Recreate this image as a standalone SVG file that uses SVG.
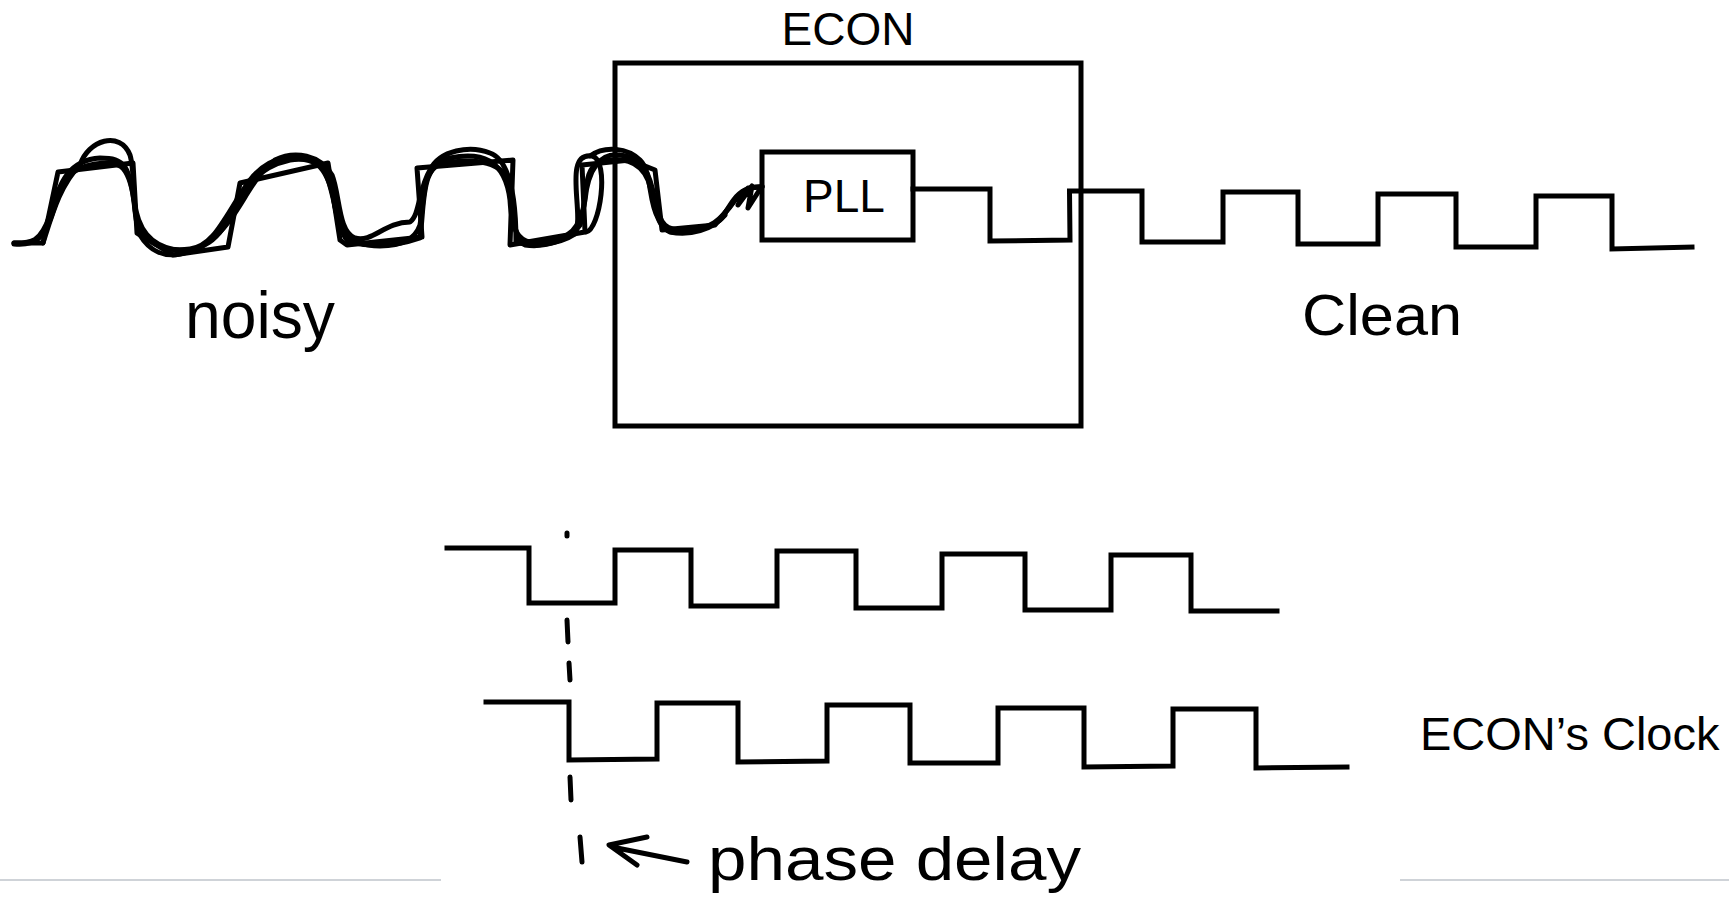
<svg xmlns="http://www.w3.org/2000/svg" width="1729" height="918" viewBox="0 0 1729 918">
<style>
.box{fill:none;stroke:#000;stroke-width:5;stroke-linejoin:miter}
.sq{fill:none;stroke:#000;stroke-width:5;stroke-linejoin:miter;stroke-linecap:square}
.hand{fill:none;stroke:#000;stroke-width:5;stroke-linecap:round;stroke-linejoin:round}
.lbl{font-family:"Liberation Sans",Arial,sans-serif;fill:#000}
.hw{font-family:"Liberation Sans",Arial,sans-serif;fill:#000}
.rule{stroke:#cfd3d8;stroke-width:2}
</style>
<rect width="1729" height="918" fill="#fff"/>

<g id="econ">
<rect class="box" x="615" y="63" width="466" height="363"/>
<text class="lbl" x="848" y="45" font-size="46" text-anchor="middle">ECON</text>
</g>

<g id="pll">
<rect class="box" x="762" y="152" width="151" height="88"/>
<text class="lbl" x="844" y="212" font-size="46" text-anchor="middle">PLL</text>
</g>

<g id="connectors">
<g id="noisy-signal">
<path class="hand" d="M14,243 L43,243 L58,172 L133,163 L137,233 L173,255 L228,247 L240,183 L328,163 L340,240 L347,245 L422,237 L417,168 L513,160 L510,245 L585,232 L582,165 L630,160 L655,170 L662,230 L715,225 L735,200 L748,188 L762,187"/>
<path class="hand" d="M14,243 C30,243 40,244 50,215 C60,180 70,160 100,158 C125,158 130,165 135,210 C140,245 165,252 190,249 C215,246 225,215 250,180 C270,155 300,150 320,165 C335,180 335,235 350,242 C375,248 400,245 420,238 C425,200 420,165 450,158 C480,152 505,158 510,200 C512,235 520,246 545,242 C570,238 580,230 585,200 C588,170 600,152 620,155 C645,158 650,175 655,200 C660,225 665,232 690,230 C710,228 720,222 735,200 C742,190 750,186 762,187"/>
<path class="hand" d="M43,243 C52,215 60,185 80,165 C88,140 120,130 130,155 C136,175 131,210 140,235 C150,252 165,257 180,254 C200,250 215,240 230,220 C245,200 255,175 275,160 C295,150 320,155 332,175 C340,195 338,232 355,238 C372,243 385,222 410,222 C420,215 418,190 430,170 C440,150 470,145 490,153 C510,160 516,200 516,242 C532,248 560,244 575,234 C585,215 562,152 592,156 C610,160 600,230 586,232 M590,156 C605,145 628,148 640,160 C652,172 648,200 658,218 C662,228 668,234 680,232 C700,230 712,228 722,218 C730,205 735,195 745,190 L738,205 L752,186 L748,208 L762,186"/>
<path class="hand" d="M14,244 C35,246 45,240 55,205 C62,180 70,168 95,164 C118,161 128,162 134,200 C138,230 150,245 175,250 C200,253 220,242 236,205 C245,185 262,166 290,160 C312,157 326,162 334,200 C338,230 345,246 380,246 C400,246 415,240 420,225 C425,195 422,172 440,164 C470,158 500,160 508,180 C514,205 512,240 525,245 C545,248 570,240 580,225 C588,200 582,168 600,162 C620,156 640,160 648,180 C655,200 655,225 670,232 C690,236 712,230 725,215"/>
</g>
<g id="clean-signal">
<path class="sq" d="M913,189 L990,189 L990,241 L1070,240 L1069.5,191 L1142,191 L1142,242 L1223,242 L1223,192 L1298,192 L1298,244 L1378,244 L1378,194 L1456,194 L1456,247 L1536,247 L1536,196 L1612,196 L1612,249 L1692,247"/>
</g>
</g>

<g id="labels">
<text class="hw" x="185" y="338" font-size="66" textLength="150" lengthAdjust="spacingAndGlyphs">noisy</text>
<text class="hw" x="1302" y="335" font-size="58" textLength="160" lengthAdjust="spacingAndGlyphs">Clean</text>
<text class="lbl" x="1420" y="750" font-size="47">ECON’s Clock</text>
</g>

<g id="reference-clock">
<path class="sq" d="M447,548 L529,548 L529,603 L615,603 L615,550 L691,550 L691,606 L777,606 L777,551 L856,551 L856,608 L942,608 L942,554 L1025,554 L1025,610 L1111,610 L1111,555 L1191,555 L1191,611 L1277,611"/>
</g>

<g id="econ-clock">
<path class="sq" d="M486,702 L569,702 L569,760 L657,759 L657,703 L738,703 L738,762 L827,761 L827,705 L910,705 L910,763 L998,763 L998,708 L1084,708 L1084,767 L1173,766 L1173,709 L1256,709 L1256,768 L1347,767"/>
</g>

<g id="phase-delay">
<path class="hand" d="M567,533 L567,536 M567,620 L568,642 M569,663 L570,680 M570,777 L571,800 M580,837 L582,862"/>
<path class="hand" d="M647,837 L609,845 L637,865 M617,848 L687,862"/>
<text class="hw" x="708" y="880" font-size="62" textLength="373" lengthAdjust="spacingAndGlyphs">phase delay</text>
</g>

<g id="rules">
<line class="rule" x1="0" y1="880" x2="441" y2="880"/>
<line class="rule" x1="1400" y1="880" x2="1729" y2="880"/>
</g>
</svg>
